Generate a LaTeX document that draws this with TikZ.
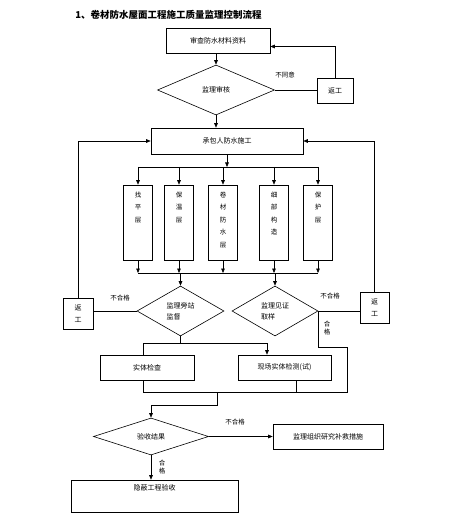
\documentclass[tikz,border=0pt]{standalone}
\usepackage{fontspec}
\setmainfont{Noto Sans CJK SC}
\usetikzlibrary{shapes.geometric,arrows.meta,calc}
\newcommand\vtext[1]{\parbox[c][75pt][t]{29pt}{\centering\fontsize{6.5}{12.5}\selectfont\vspace*{7pt}#1}}
\begin{document}
\begin{tikzpicture}[x=1pt,y=-1pt,line width=0.6pt,
  box/.style={draw,rectangle,inner sep=0pt,font=\fontsize{7}{8}\selectfont},
  vbox/.style={draw,rectangle,inner sep=0pt,minimum width=29pt,minimum height=75pt},
  dia/.style={draw,diamond,inner sep=0pt,align=left,font=\fontsize{7}{11}\selectfont},
  lbl/.style={inner sep=0pt,font=\fontsize{6.5}{8.5}\selectfont},
  arr/.style={-{Triangle[length=4.5pt,width=3.6pt]}}]
\useasboundingbox (0,0) rectangle (460,521);
\node[anchor=west,inner sep=0pt,font=\bfseries\fontsize{9.5}{11}\selectfont] (title) at (75,15) {1、卷材防水屋面工程施工质量监理控制流程};
\node[box,minimum width=104pt,minimum height=25pt] (top) at (218,40.5) {审查防水材料资料};
\node[dia,minimum width=117pt,minimum height=50pt] (d1) at (216,90) {监理审核};
\node[box,minimum width=36pt,minimum height=25pt] (fg1) at (335,90.5) {返工};
\node[box,minimum width=152pt,minimum height=26pt] (cb) at (227,141) {承包人防水施工};
\node[vbox] (l1) at (138,222.5) {\vtext{找\\平\\层}};
\node[vbox] (l2) at (179,222.5) {\vtext{保\\温\\层}};
\node[vbox] (l3) at (223,222.5) {\vtext{卷\\材\\防\\水\\层}};
\node[vbox] (l4) at (274,222.5) {\vtext{细\\部\\构\\造}};
\node[vbox] (l5) at (318,222.5) {\vtext{保\\护\\层}};
\node[dia,minimum width=87pt,minimum height=50pt] (d2) at (180.5,311) {监理旁站\\监督};
\node[dia,minimum width=86pt,minimum height=50pt] (d3) at (275,311) {监理见证\\取样};
\node[box,align=center,minimum width=30pt,minimum height=31pt,font=\fontsize{7}{12}\selectfont] (fgL) at (78,313.5) {返\\工};
\node[box,align=center,minimum width=29pt,minimum height=31pt,font=\fontsize{7}{12}\selectfont] (fgR) at (374.5,307.5) {返\\工};
\node[box,minimum width=94pt,minimum height=25pt] (A) at (147,367.5) {实体检查};
\node[box,minimum width=93pt,minimum height=25pt] (B) at (284.5,367.5) {现场实体检测(试)};
\node[dia,minimum width=115pt,minimum height=37pt] (d4) at (151,436.5) {验收结果};
\node[box,minimum width=110pt,minimum height=25pt] (C) at (328,436.5) {监理组织研究补救措施};
\node[box,minimum width=167pt,text height=10pt,text depth=22pt] (D) at (154.5,496) {隐蔽工程验收};
% labels
\node[lbl] (n1) at (285,75) {不同意};
\node[lbl] (n2) at (120,298) {不合格};
\node[lbl] (n3) at (330,296) {不合格};
\node[lbl] (n4) at (235,422) {不合格};
\node[lbl,align=center] (h1) at (327,328) {合\\格};
\node[lbl,align=center] (h2) at (162,467) {合\\格};
% top part
\draw[arr] (d1.north |- top.south) -- (d1.north);
\draw (d1.east) -- (d1.east -| fg1.west);
\draw[arr] (fg1.north) |- ($(top.east)+(0,6)$);
\draw[arr] (d1.south) -- (d1.south |- cb.north);
% buses
\coordinate (busT) at (227,167);
\coordinate (busB) at (227,273);
\draw[arr] (cb.south) -- (cb.south |- busT);
\draw (l1.north |- busT) -- (l5.north |- busT);
\foreach \i in {1,...,5}{
  \draw[arr] (l\i.north |- busT) -- (l\i.north);
  \draw[arr] (l\i.south) -- (l\i.south |- busB);
}
\draw (l1.south |- busB) -- (l5.south |- busB);
\draw[arr] (d2.north |- busB) -- (d2.north);
\draw[arr] (d3.north |- busB) -- (d3.north);
% feedback loops
\draw[arr] (fgL.north) |- (cb.west);
\draw[arr] (fgR.north) |- (cb.east);
\draw (d2.west) -- (d2.west -| fgL.east);
\draw (d3.east) -- (d3.east -| fgR.west);
% to inspection boxes
\coordinate (aL) at (143,343);
\coordinate (bR) at (267,343);
\draw (d2.south) -- (d2.south |- aL);
\draw[arr] (aL |- A.north) -- (aL) -- (bR) -- (bR |- B.north);
% merge
\coordinate (j) at (217,392);
\coordinate (q1) at (347,347);
\coordinate (bS) at (296,392);
\draw (d3.east) -- (d3.east |- q1) -- (q1) -- (q1 |- j) -- (aL |- j) -- (aL |- A.south);
\draw (bS |- B.south) -- (bS);
\coordinate (k) at (217,405);
\draw[arr] (j) -- (k) -- (k -| d4.north) -- (d4.north);
\draw[arr] (d4.east) -- (C.west);
\draw[arr] (d4.south) -- (d4.south |- D.north);
\end{tikzpicture}
\end{document}
